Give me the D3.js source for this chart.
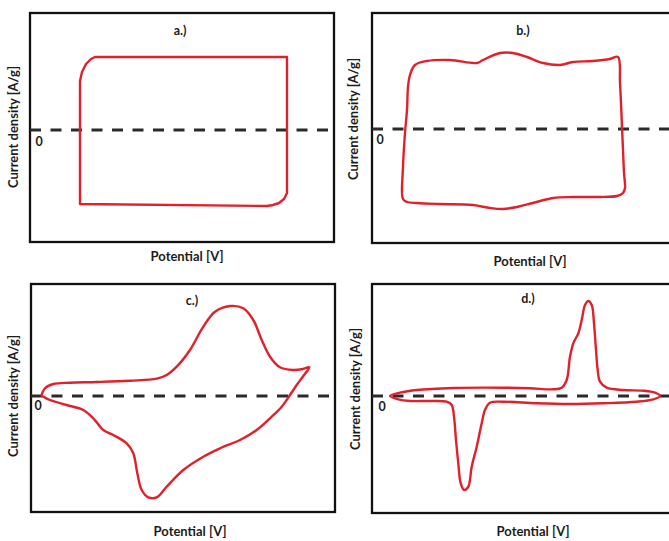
<!DOCTYPE html>
<html>
<head>
<meta charset="utf-8">
<script src="https://cdn.jsdelivr.net/npm/d3@7"></script>
<style>
  html, body { margin: 0; padding: 0; background: #fff; }
  svg { display: block; }
  text { font-family: Lato, "Open Sans", sans-serif; font-weight: 700; fill: #1c1c1c; }
</style>
</head>
<body>
<svg id="chart" width="669" height="541"></svg>
<script>
// ---- Data: cyclic voltammograms (potential, current density), arbitrary units, 0 = zero current ----
const panelTitles = ["a.)", "b.)", "c.)", "d.)"];
const xAxisLabel = "Potential [V]";
const yAxisLabel = "Current density [A/g]";
const zeroLabel = "0";

// a.) ideal rectangular (EDLC)
const cvA = [
  [50, -74], [50, 49], [52, 58], [56, 66], [61, 71], [65, 73], [257, 73],
  [257, -63], [254, -69], [249, -73], [243, -75], [237, -76], [50, -74]
];

// b.) quasi-rectangular
const cvB = [
  [38, 54], [43, 64], [55, 68], [78, 69], [105, 66], [111, 69], [128, 76], [141, 76],
  [155, 72], [171, 66], [188, 64], [201, 67], [221, 68], [238, 70], [246, 72],
  [248, 46], [250, 2], [251, -21], [252, -44], [253, -59], [251, -64], [245, -67],
  [228, -68], [201, -68], [181, -69], [161, -74], [145, -78], [131, -80], [118, -79],
  [101, -76], [68, -75], [45, -74], [35, -73], [31, -70], [31, -38], [33, -4],
  [35, 19], [36, 42]
];

// c.) broad redox peaks (pseudocapacitive)
const cvC = [
  [10.7, 0], [14, 7.7], [22.3, 12], [39, 13.3], [65.7, 14], [99, 15.3], [125.7, 17.3],
  [135.7, 21], [145.7, 29.3], [159, 46], [172.3, 69.3], [184, 84.3], [199, 90],
  [212.3, 87.7], [222.3, 76], [230.7, 56], [239, 39.3], [249, 28.7], [262.3, 26],
  [270.7, 26.7], [278.3, 28.7], [272.3, 20], [265.7, 11], [259, 1], [250.7, -10.7],
  [239, -22.3], [225.7, -34], [209, -44], [189, -52.3], [172.3, -60.7], [152.3, -74],
  [135.7, -90.7], [125.7, -101.3], [117.3, -101.3], [110.7, -94], [106.3, -77.3],
  [102.3, -57.3], [95.7, -47.3], [82.3, -39], [72.3, -34], [62.3, -22.3], [52.3, -14],
  [35.7, -9], [19, -4], [12.3, -0.7]
];

// d.) sharp redox peaks (battery-type)
const cvD = [
  [18, 0], [28, 3.3], [44.7, 6], [81.3, 8], [131.3, 8.3], [158, 7.7], [181.3, 6.7],
  [189.7, 8.3], [194.7, 16], [198, 39.3], [201.3, 52.7], [206.3, 62.7], [209.7, 76],
  [213, 91], [216.3, 95], [219.7, 91], [222, 72.7], [224, 46], [225.7, 26], [228, 14.3],
  [234.7, 8.3], [251.3, 6], [271.3, 5.3], [283, 3.3], [288, 0], [281.3, -3.3],
  [264.7, -5.7], [231.3, -7.3], [198, -8], [164.7, -7.3], [131.3, -5.7], [118, -6.7],
  [113, -14], [109.7, -27.3], [104.7, -50.7], [99.7, -70.7], [96.3, -90.7], [92.3, -94],
  [88.7, -87.3], [86.3, -67.3], [84, -44], [82, -20.7], [79.7, -9], [74.7, -5.7],
  [58, -5], [38, -5], [26.3, -3.3]
];

const curves = [cvA, cvB, cvC, cvD];

// ---- Layout ----
const panels = [
  { left: 30,  top: 13,  bottom: 242, zero: 130, width: 304, curve: d3.curveLinearClosed,
    title: [180, 32], ylab: [15, 127], zlab: [39, 143], xlab: [187, 258] },
  { left: 372, top: 13,  bottom: 243, zero: 129, width: 304, curve: d3.curveCatmullRomClosed.alpha(0.5),
    title: [523, 32], ylab: [355, 119], zlab: [380, 141], xlab: [530, 263] },
  { left: 31,  top: 284, bottom: 512, zero: 396, width: 304, curve: d3.curveCatmullRomClosed.alpha(0.5),
    title: [192, 302], ylab: [15, 396], zlab: [38, 407], xlab: [190, 533] },
  { left: 372, top: 284, bottom: 513, zero: 396, width: 304, curve: d3.curveCatmullRomClosed.alpha(0.5),
    title: [528, 300], ylab: [357, 389], zlab: [382, 408], xlab: [533, 533] }
];

const svg = d3.select("#chart");

panels.forEach((p, i) => {
  const x = d3.scaleLinear().domain([0, p.width]).range([p.left, p.left + p.width]);
  const y = d3.scaleLinear()
    .domain([p.zero - p.bottom, p.zero - p.top])
    .range([p.bottom, p.top]);

  const g = svg.append("g");

  // frame
  g.append("rect")
    .attr("x", x(0)).attr("y", y.range()[1])
    .attr("width", x(p.width) - x(0))
    .attr("height", y.range()[0] - y.range()[1])
    .attr("fill", "none").attr("stroke", "#111").attr("stroke-width", 2.3);

  // dashed zero line
  g.append("line")
    .attr("x1", x(0)).attr("x2", x(p.width))
    .attr("y1", y(0)).attr("y2", y(0))
    .attr("stroke", "#2a2a2a").attr("stroke-width", 2.8)
    .attr("stroke-dasharray", "11,9.5");

  // CV curve
  const line = d3.line().x(d => x(d[0])).y(d => y(d[1])).curve(p.curve);
  g.append("path")
    .attr("d", line(i === 0 ? curves[i].slice(0, -1) : curves[i]))
    .attr("fill", "none").attr("stroke", "#e0212b").attr("stroke-width", 2.4)
    .attr("stroke-linejoin", "round");

  // texts
  g.append("text").attr("x", p.title[0]).attr("y", p.title[1])
    .attr("text-anchor", "middle").attr("dominant-baseline", "middle")
    .attr("font-size", 12.5).text(panelTitles[i]);

  g.append("text").attr("x", p.zlab[0]).attr("y", p.zlab[1])
    .attr("text-anchor", "middle").attr("dominant-baseline", "middle")
    .attr("font-size", 12.5).text(zeroLabel);

  g.append("text")
    .attr("transform", `translate(${p.ylab[0]},${p.ylab[1]}) rotate(-90)`)
    .attr("text-anchor", "middle").attr("dominant-baseline", "middle")
    .attr("font-size", 13).text(yAxisLabel);

  g.append("text").attr("x", p.xlab[0]).attr("y", p.xlab[1])
    .attr("text-anchor", "middle").attr("dominant-baseline", "middle")
    .attr("font-size", 13).text(xAxisLabel);
});
</script>
</body>
</html>
